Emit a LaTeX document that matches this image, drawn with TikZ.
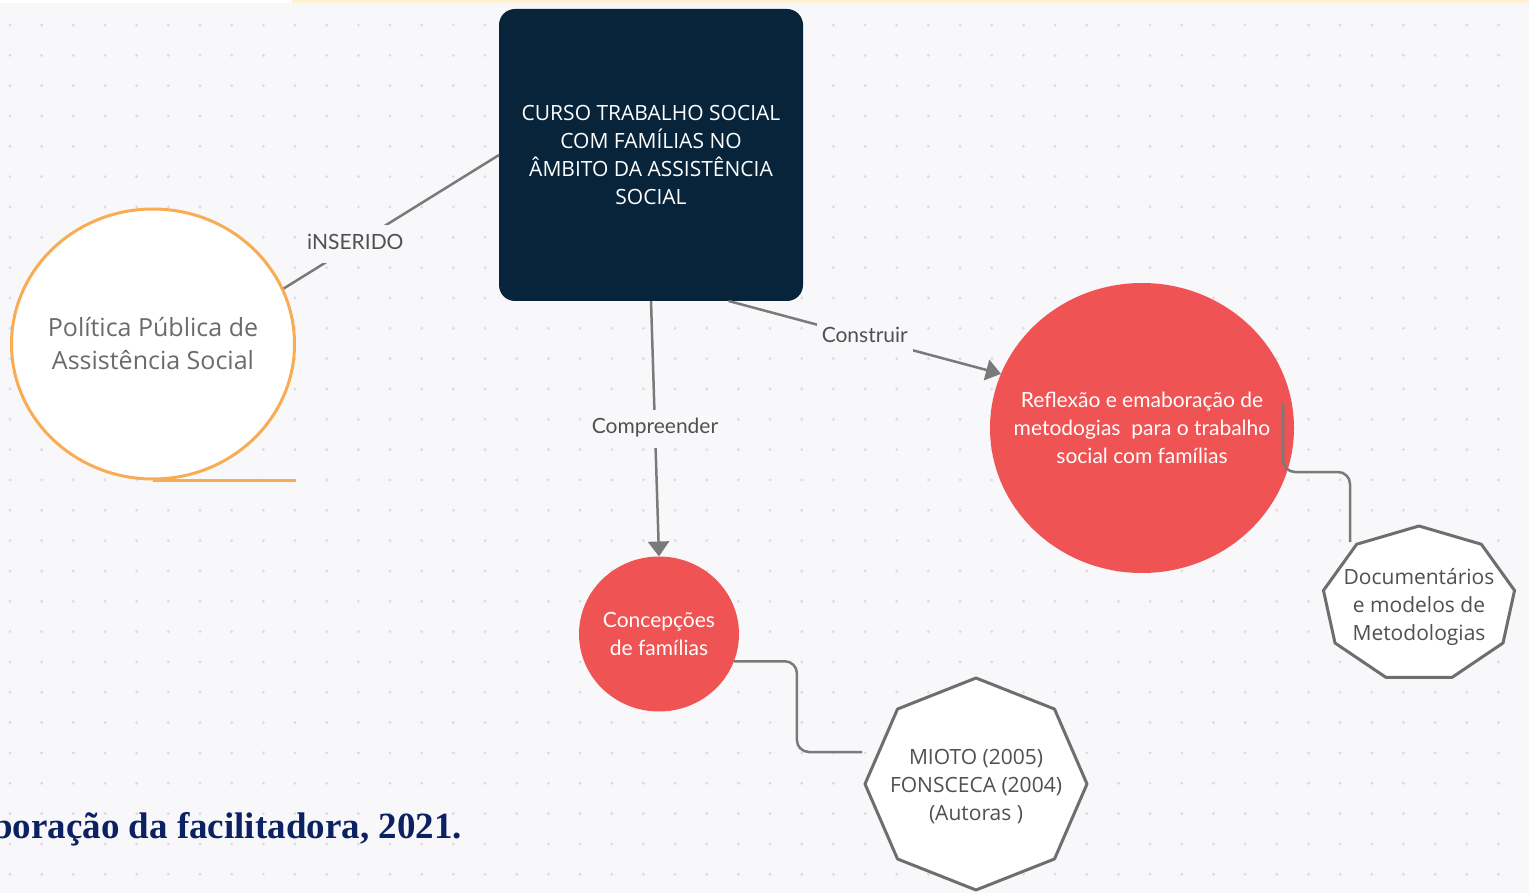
\documentclass[tikz,border=0pt]{standalone}
\usepackage{fontspec}
\setmainfont{Open Sans}
\newfontfamily\latofont{Lato}
\newfontfamily\capfont{Liberation Serif}
\usepackage{tikz}
\usetikzlibrary{arrows.meta,positioning,calc,shapes.geometric}

\definecolor{canvas}{HTML}{F8F8FA}
\definecolor{dotgray}{HTML}{DCDCE2}
\definecolor{navy}{HTML}{07243B}
\definecolor{coral}{HTML}{F05353}
\definecolor{ringorange}{HTML}{F8AD55}
\definecolor{linkgray}{HTML}{7A7A7A}
\definecolor{edgegray}{HTML}{6E6E6E}
\definecolor{inkgray}{HTML}{505050}
\definecolor{softgray}{HTML}{6B6B6B}
\definecolor{capblue}{HTML}{0B2162}
\definecolor{stripyellow}{HTML}{FFF2D4}

% polygon frame round a centre: centre, last vertex index, step angle, x radius, y radius
\newcommand{\polyframe}[5]{%
  \draw[polyedge] ($(#1)+(-90:#4 and #5)$)
    \foreach \k in {1,...,#2} {-- ($(#1)+(-90+#3*\k:#4 and #5)$)} -- cycle;}

\begin{document}
\begin{tikzpicture}[
  x=1pt, y=-1pt,
  hub/.style={rectangle, rounded corners=16pt, fill=navy, text=white, minimum width=304pt, minimum height=292pt, align=center, outer sep=0pt, font=\fontsize{21}{28}\selectfont},
  ring/.style={ellipse, draw=ringorange, line width=3pt, fill=white, minimum width=283pt, minimum height=270pt, inner xsep=-20pt, inner ysep=0pt, align=center, text=softgray, font=\fontsize{25}{33}\selectfont},
  blob/.style={ellipse, fill=coral, text=white, align=center, inner xsep=-30pt, inner ysep=0pt, outer sep=0pt, font=\latofont\fontsize{21}{28}\selectfont},
  lbl/.style={fill=canvas, text=inkgray, inner xsep=5pt, inner ysep=9pt, text height=15pt, text depth=5pt, font=\latofont\fontsize{21}{25}\selectfont},
  link/.style={draw=linkgray, line width=2.5pt},
  arrow/.style={link, -{Triangle[length=15pt,width=21pt]}},
  polyedge/.style={draw=edgegray, line width=3pt, fill=white, line join=round},
  reftext/.style={align=center, text=inkgray, yshift=-3pt, font=\fontsize{21}{28}\selectfont},
  caption/.style={text=capblue, inner sep=0pt, font=\capfont\bfseries\fontsize{37}{40}\selectfont},
]
  \useasboundingbox (0,0) rectangle (1529,893);
  \clip (0,0) rectangle (1529,893);

  % canvas with dot grid
  \fill[canvas] (0,0) rectangle (1529,893);
  \fill[white] (0,0) rectangle (292,3);
  \fill[stripyellow] (292,0) rectangle (1529,3);
  \foreach \i in {0,...,47} {
    \foreach \j in {0,...,28} {
      \fill[dotgray] (10+31.67*\i,25+30.33*\j) circle (1.6pt);
    }
  }

  \node[hub] (course) at (651,155) {CURSO TRABALHO SOCIAL\\COM FAMÍLIAS NO\\ÂMBITO DA ASSISTÊNCIA\\SOCIAL};
  \node[ring] (policy) at (153,344) {Política Pública de\\Assistência Social};
  \draw[ringorange, line width=3pt] (policy.south) -- ++(143,0);
  \node[blob, minimum width=304pt, minimum height=290pt] (reflex) at (1142,428) {Reflexão e emaboração de\\metodogias\ \ para o trabalho\\social com famílias};
  \node[blob, minimum width=160pt, minimum height=155pt] (concep) at (659,634) {Concepções\\de famílias};

  \coordinate (docs-c) at (1419,604);
  \coordinate (mioto-c) at (976,784);
  \coordinate (docs-in) at ($(docs-c)+(-69,-62)$);
  \coordinate (mioto-in) at ($(mioto-c)+(-114,-32)$);

  \draw[link] (course.west) -- node[lbl, pos=0.667] {iNSERIDO} (policy.23);
  \draw[arrow] (course.south) -- node[lbl] {Compreender} (concep.north);
  \draw[arrow] (course.-62) -- node[lbl] {Construir} (reflex.159);
  \draw[link, rounded corners=12pt] ($(reflex.east)+(-11,-24)$) -- ++(0,45) |- ($(docs-in)+(0,-70)$) -- (docs-in);
  \draw[link, rounded corners=12pt] (concep.-20) -- ++(63,0) |- (mioto-in);

  \polyframe{docs-c}{8}{40}{97}{78}
  \polyframe{mioto-c}{7}{45}{111}{106}
  \node[reftext] (docs) at (docs-c) {Documentários\\e modelos de\\Metodologias};
  \node[reftext] (mioto) at (mioto-c) {MIOTO (2005)\\FONSCECA (2004)\\(Autoras )};

  \node[caption, anchor=base east] (source) at (462,838) {boração da facilitadora, 2021.};
\end{tikzpicture}
\end{document}
